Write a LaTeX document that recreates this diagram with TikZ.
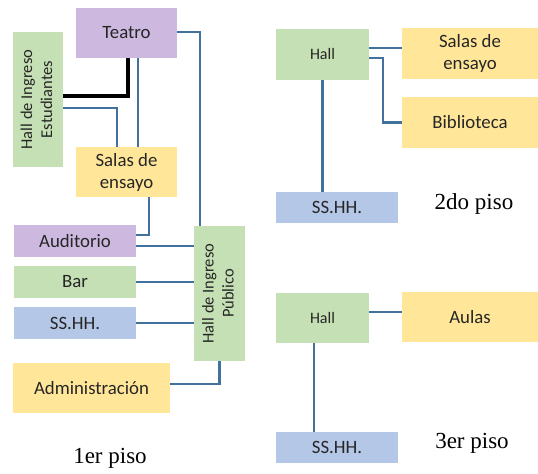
\documentclass[tikz,border=0pt]{standalone}
\usepackage{fontspec}
\usepackage{graphicx}
\newfontfamily\calib{Carlito}
\newfontfamily\tnr{Liberation Serif}
\definecolor{cpurple}{HTML}{CDB9E0}
\definecolor{cgreen}{HTML}{C5E0B4}
\definecolor{cyellow}{HTML}{FFE699}
\definecolor{cblue}{HTML}{B4C7E7}
\definecolor{cline}{HTML}{41719C}
\tikzset{
  box/.style={draw=none, inner sep=0pt, align=center, text=black!85,
    font=\calib\fontsize{18.8bp}{22bp}\selectfont},
  smallbox/.style={box, font=\calib\fontsize{16bp}{19bp}\selectfont},
  link/.style={draw=cline, line width=2.1bp},
  thick link/.style={draw=black, line width=3.2bp},
  floorlabel/.style={font=\tnr\fontsize{23bp}{27bp}\selectfont, inner sep=0pt}
}
\begin{document}
\begin{tikzpicture}[x=1bp,y=-1bp]
\useasboundingbox[fill=white] (0,0) rectangle (538,474);
% ---------- 1er piso ----------
\node[box, fill=cpurple, minimum width=101bp, minimum height=50bp] (teatro) at (126.5,33) {Teatro};
\node[box, fill=cgreen, minimum width=50bp, minimum height=135bp] (hallE) at (38,99.5)
  {\rotatebox{90}{\fontsize{16.5bp}{20bp}\selectfont\begin{tabular}{@{}c@{}}Hall de Ingreso\\Estudiantes\end{tabular}}};
\node[box, fill=cyellow, minimum width=101bp, minimum height=50bp] (salas1) at (126.5,172) {Salas de\\ensayo};
\node[box, fill=cpurple, minimum width=122bp, minimum height=32bp] (aud) at (75,241) {Auditorio};
\node[box, fill=cgreen, minimum width=122bp, minimum height=32bp] (bar) at (75,282) {Bar};
\node[box, fill=cblue, minimum width=122bp, minimum height=32bp] (ss1) at (75,323) {SS.HH.};
\node[box, fill=cgreen, minimum width=51bp, minimum height=135bp] (hallP) at (219.5,293.5)
  {\rotatebox{90}{\fontsize{16.5bp}{20bp}\selectfont\begin{tabular}{@{}c@{}}Hall de Ingreso\\Público\end{tabular}}};
\node[box, fill=cyellow, minimum width=157bp, minimum height=50bp] (admin) at (91.5,388) {Administración};
\node[floorlabel] (p1) at (110,458) {1er piso};

\draw[thick link] ([yshift=3.5bp]hallE.east) -| ([xshift=1.5bp]teatro.south);
\draw[link] ([yshift=-8.5bp]hallE.east) -| ([xshift=-9.5bp]salas1.north);
\draw[link] ([xshift=11.5bp]teatro.south) -- ([xshift=11.5bp]salas1.north);
\draw[link] ([yshift=1bp]teatro.east) -| ([xshift=-19.5bp]hallP.north);
\draw[link] ([xshift=22.5bp]salas1.south) |- ([yshift=6bp]aud.east);
\draw[link] ([yshift=-5bp]aud.east) -- ([yshift=-5bp]aud.east -| hallP.west);
\draw[link] (bar.east) -- (bar.east -| hallP.west);
\draw[link] (ss1.east) -- (ss1.east -| hallP.west);
\draw[link] ([yshift=4bp]admin.east) -| (hallP.south);

% ---------- 2do piso ----------
\node[smallbox, fill=cgreen, minimum width=93bp, minimum height=51bp] (hall2) at (322.5,54.5) {Hall};
\node[box, fill=cyellow, minimum width=136bp, minimum height=51bp] (salas2) at (470,53.5) {Salas de\\ensayo};
\node[box, fill=cyellow, minimum width=136bp, minimum height=51bp] (bib) at (470,122.5) {Biblioteca};
\node[box, fill=cblue, minimum width=122bp, minimum height=31bp] (ss2) at (337,207.5) {SS.HH.};
\node[floorlabel] (p2) at (474,204) {2do piso};

\draw[link] ([yshift=6.5bp]hall2.east) -- ([yshift=6.5bp]hall2.east -| salas2.west);
\draw[link] ([yshift=-3.5bp]hall2.east) -| ([xshift=-19bp]bib.west) -- (bib.west);
\draw[link] (hall2.south) -- (hall2.south |- ss2.north);

% ---------- 3er piso ----------
\node[smallbox, fill=cgreen, minimum width=93bp, minimum height=50bp] (hall3) at (322.5,318) {Hall};
\node[box, fill=cyellow, minimum width=136bp, minimum height=50bp] (aulas) at (470,317) {Aulas};
\node[box, fill=cblue, minimum width=122bp, minimum height=31bp] (ss3) at (337,447.5) {SS.HH.};
\node[floorlabel] (p3) at (472,443) {3er piso};

\draw[link] ([yshift=6bp]hall3.east) -- ([yshift=6bp]hall3.east -| aulas.west);
\draw[link] ([xshift=-8.5bp]hall3.south) -- ([xshift=-8.5bp]hall3.south |- ss3.north);
\end{tikzpicture}
\end{document}
